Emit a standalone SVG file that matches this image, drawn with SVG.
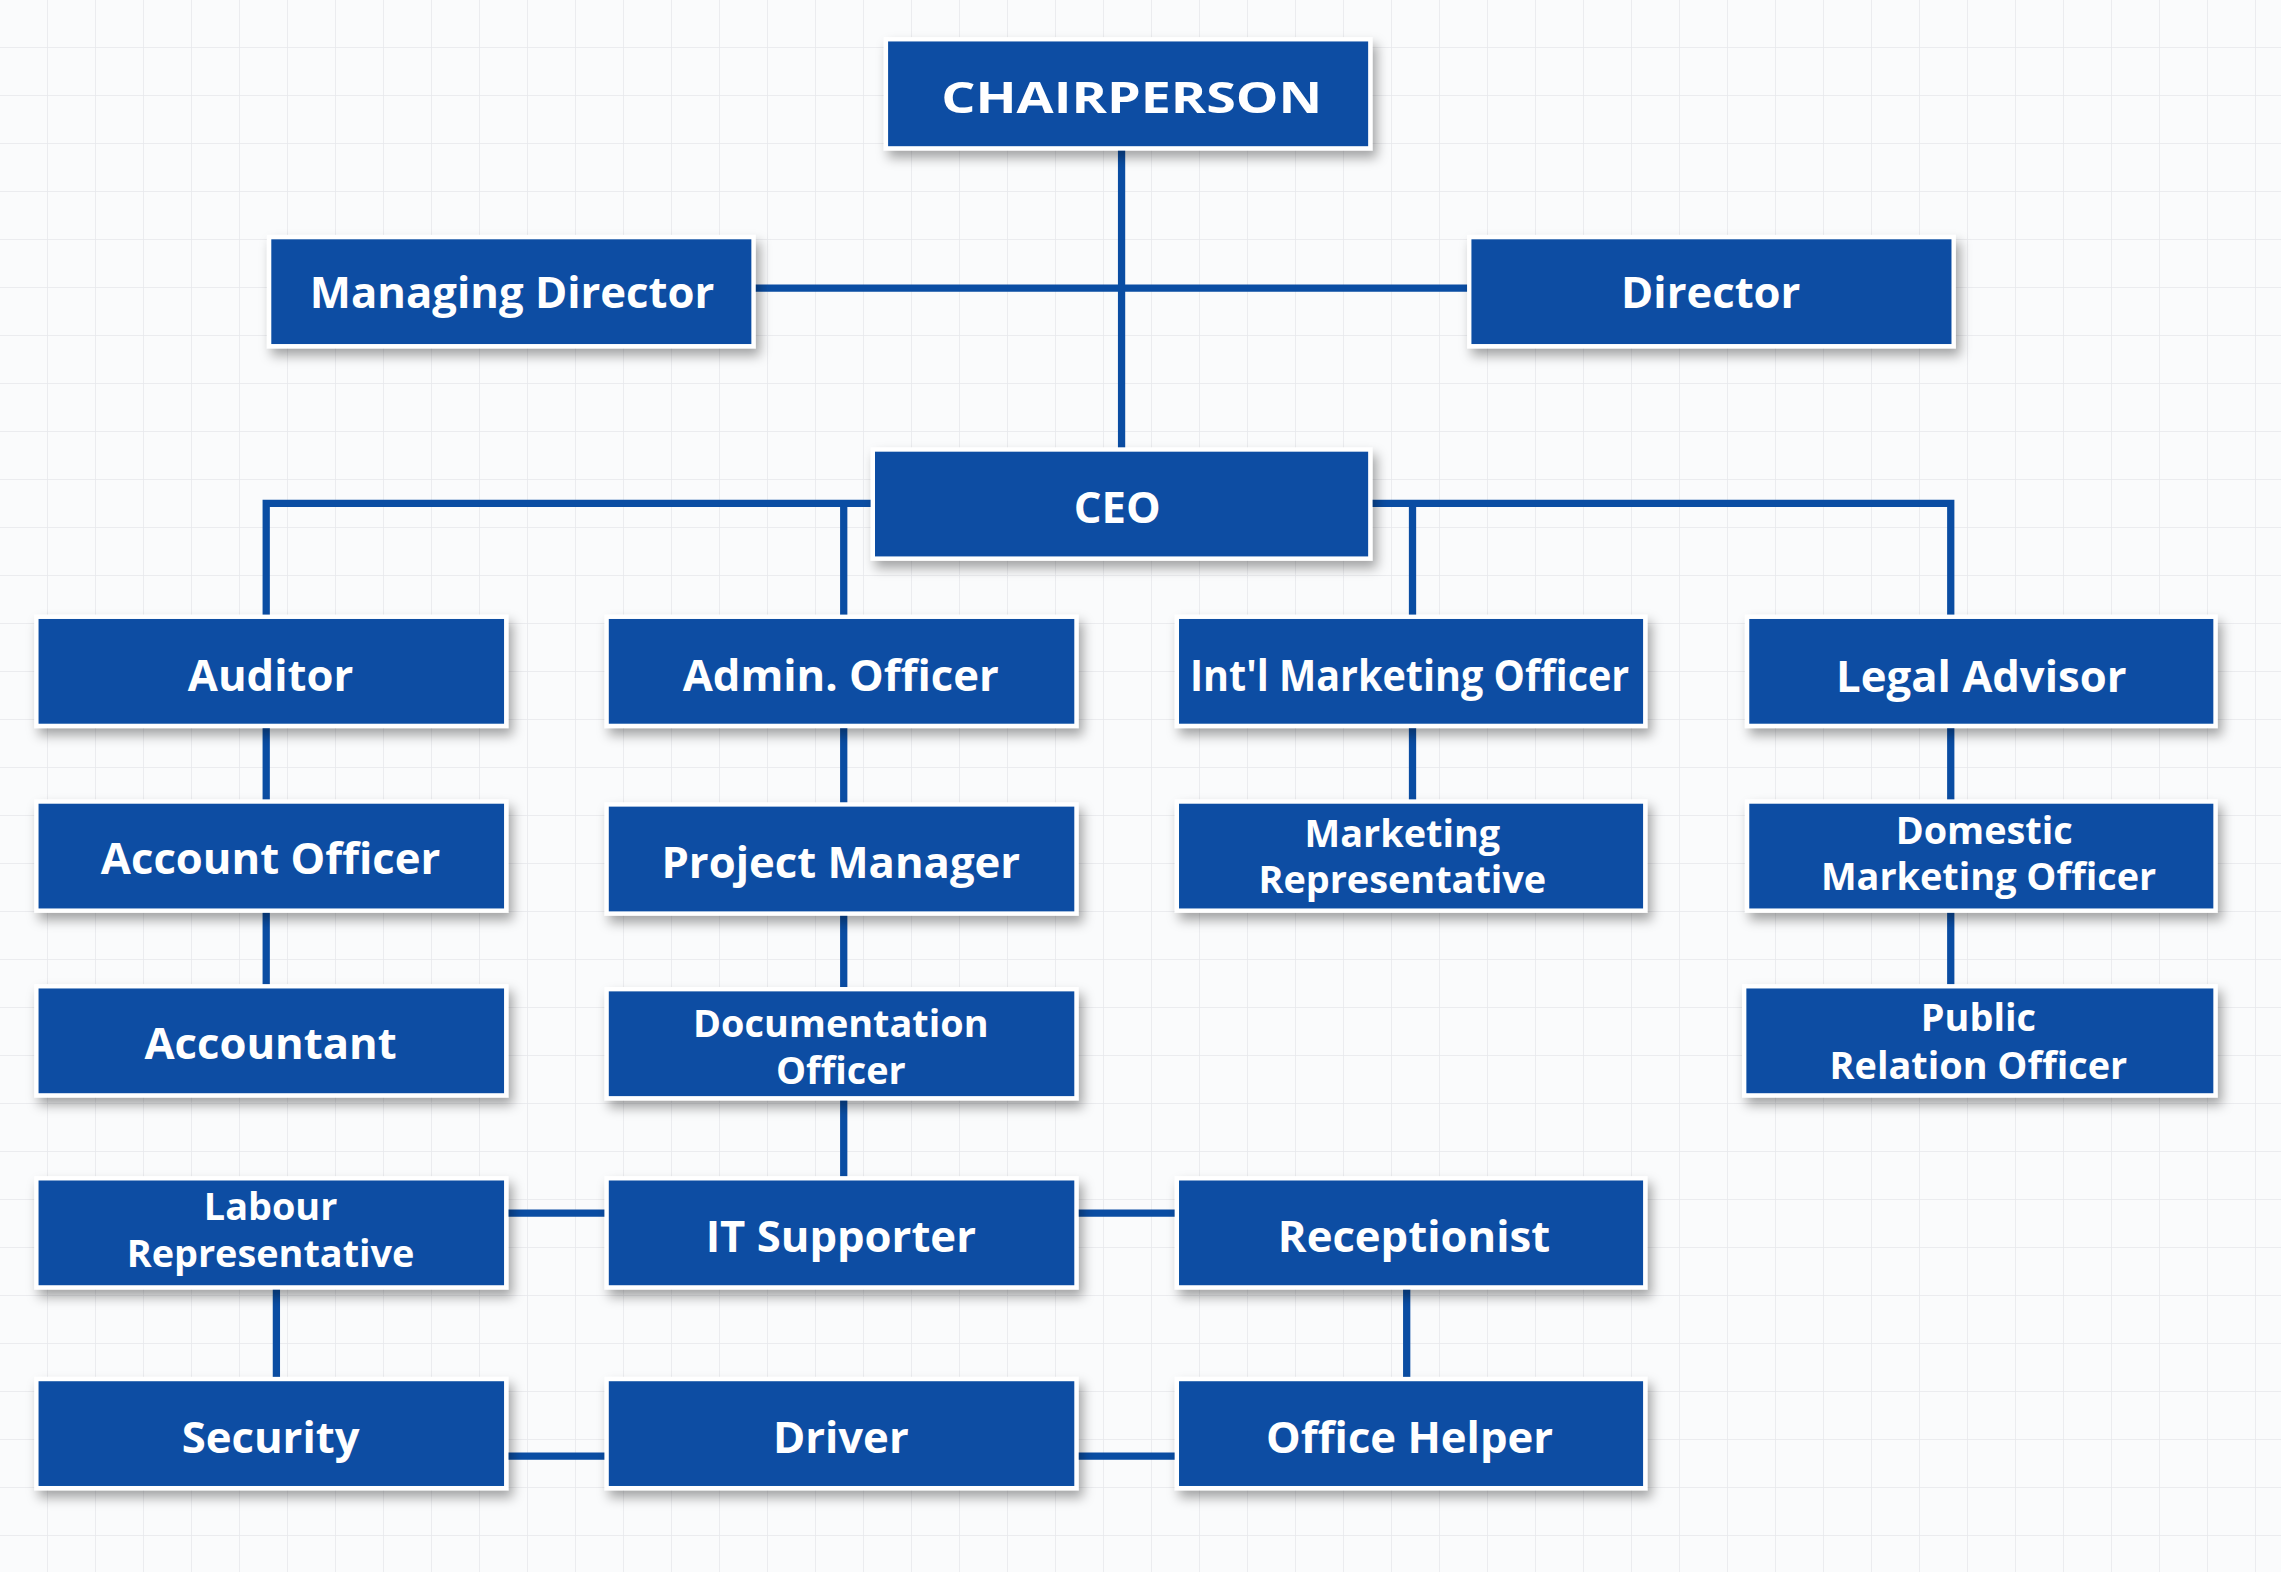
<svg xmlns="http://www.w3.org/2000/svg" width="2281" height="1572" viewBox="0 0 2281 1572">
<defs>
<pattern id="grid" width="48" height="48" patternUnits="userSpaceOnUse"><path d="M48 0V48H0" fill="none" stroke="#e6e8ec" stroke-width="1.5"/></pattern>
<filter id="sh" x="-10%" y="-10%" width="130%" height="140%"><feDropShadow dx="3" dy="5" stdDeviation="4" flood-color="#000" flood-opacity="0.35"/></filter>
</defs>
<style>
.b{fill:#0a4da3;stroke:#fff;stroke-width:3;filter:url(#sh)}
.t{fill:#fff;font-family:"Open Sans","Noto Sans",sans-serif;font-weight:700;font-size:30px;text-anchor:middle;dominant-baseline:central}
.s{font-size:26px}
.c{stroke:#0a4da3;stroke-width:5;fill:none}
</style>
<rect width="2281" height="1572" fill="#fafbfc"/>
<rect width="2281" height="1572" fill="url(#grid)"/>
<g transform="scale(1.4547)">
<g id="connectors" class="c">
<path d="M771 102V309M518 198H1010"/>
<path d="M600 346H183V424M580 346V424M942 346H1341V424M971 346V424"/>
<path d="M183 499V551M183 626V678M580 499V553M580 628V680M580 755V810M971 499V551M1341 499V551M1341 626V678"/>
<path d="M348 834H417M740 834H809M190 885V948M967 885V948M348 1001H417M740 1001H809"/>
</g>
<g id="chair"><rect class="b" x="609" y="27" width="333" height="75"/><text class="t" x="778" y="66" font-size="34" textLength="262" lengthAdjust="spacingAndGlyphs">CHAIRPERSON</text></g>
<g id="md"><rect class="b" x="185" y="163" width="333" height="75"/><text class="t" x="352" y="200">Managing Director</text></g>
<g id="dir"><rect class="b" x="1010" y="163" width="333" height="75"/><text class="t" x="1176" y="200">Director</text></g>
<g id="ceo"><rect class="b" x="600" y="309" width="342" height="75"/><text class="t" x="768" y="348">CEO</text></g>
<g id="auditor"><rect class="b" x="25" y="424" width="323" height="75"/><text class="t" x="186" y="463">Auditor</text></g>
<g id="admin"><rect class="b" x="417" y="424" width="323" height="75"/><text class="t" x="578" y="463">Admin. Officer</text></g>
<g id="intl"><rect class="b" x="809" y="424" width="322" height="75"/><text class="t" x="969" y="463" textLength="302" lengthAdjust="spacingAndGlyphs" font-size="28">Int'l Marketing Officer</text></g>
<g id="legal"><rect class="b" x="1201" y="424" width="322" height="75"/><text class="t" x="1362" y="464">Legal Advisor</text></g>
<g id="acco"><rect class="b" x="25" y="551" width="323" height="75"/><text class="t" x="186" y="589">Account Officer</text></g>
<g id="pm"><rect class="b" x="417" y="553" width="323" height="75"/><text class="t" x="578" y="592">Project Manager</text></g>
<g id="mrep"><rect class="b" x="809" y="551" width="322" height="75"/><text class="t s" x="964" y="572">Marketing</text><text class="t s" x="964" y="604">Representative</text></g>
<g id="dmo"><rect class="b" x="1201" y="551" width="322" height="75"/><text class="t s" x="1364" y="570">Domestic</text><text class="t s" x="1367" y="602">Marketing Officer</text></g>
<g id="acct"><rect class="b" x="25" y="678" width="323" height="75"/><text class="t" x="186" y="716">Accountant</text></g>
<g id="doc"><rect class="b" x="417" y="680" width="323" height="75"/><text class="t s" x="578" y="703">Documentation</text><text class="t s" x="578" y="735">Officer</text></g>
<g id="pro"><rect class="b" x="1199" y="678" width="324" height="75"/><text class="t s" x="1360" y="699">Public</text><text class="t s" x="1360" y="732">Relation Officer</text></g>
<g id="labour"><rect class="b" x="25" y="810" width="323" height="75"/><text class="t s" x="186" y="829">Labour</text><text class="t s" x="186" y="861">Representative</text></g>
<g id="it"><rect class="b" x="417" y="810" width="323" height="75"/><text class="t" x="578" y="849">IT Supporter</text></g>
<g id="recep"><rect class="b" x="809" y="810" width="322" height="75"/><text class="t" x="972" y="849">Receptionist</text></g>
<g id="sec"><rect class="b" x="25" y="948" width="323" height="75"/><text class="t" x="186" y="987">Security</text></g>
<g id="driver"><rect class="b" x="417" y="948" width="323" height="75"/><text class="t" x="578" y="987">Driver</text></g>
<g id="helper"><rect class="b" x="809" y="948" width="322" height="75"/><text class="t" x="969" y="987">Office Helper</text></g>
</g>
</svg>
